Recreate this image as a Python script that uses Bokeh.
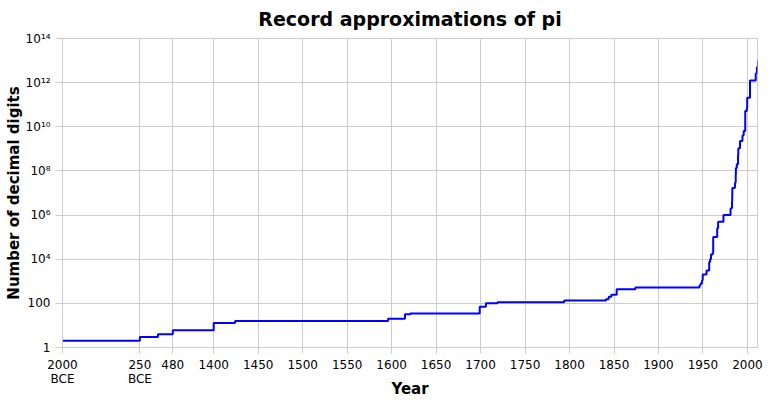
import numpy as np
from bokeh.plotting import figure
from bokeh.models import Range1d, FixedTicker
from bokeh.embed import file_html
from bokeh.resources import INLINE

# ---- data: record number of decimal digits of pi, by year (negative = BCE) ----
YEARS = [-2000, -250, 150, 480, 1400, 1424, 1596, 1615, 1621, 1699, 1706, 1719,
         1794, 1841, 1844, 1847, 1853, 1874, 1946, 1947.0, 1947.7, 1949.0, 1949.7,
         1954, 1957, 1958.0, 1958.4, 1959, 1961.0, 1961.5, 1966, 1967, 1973, 1981,
         1982.0, 1982.3, 1982.6, 1982.9, 1983, 1985.8, 1986.0, 1986.7, 1986.8,
         1987.0, 1988.0, 1989.4, 1989.5, 1989.6, 1989.7, 1989.9, 1991.6, 1994.4,
         1995.6, 1995.8, 1997.5, 1999.3, 1999.7, 2002.9, 2009.3, 2009.9, 2010.6,
         2011.8]
DIGITS = [2, 3, 4, 6, 13, 16, 20, 32, 35, 71, 100, 112,
          136, 152, 200, 248, 440, 527, 620, 710, 808, 1120, 2037,
          3092, 7480, 10000, 10021, 16167, 20000, 100265, 250000, 500000, 1001250, 2000036,
          2000050, 2097144, 4194288, 8388576, 16777206, 17526200, 29360111, 33554414, 67108839,
          134217700, 201326551, 480000000, 535339270, 536870898, 1011196691, 1073740799, 2260000000, 4044000000,
          4294967286, 6442450938, 51539600000, 68719470000, 206158430000, 1241100000000, 2576980377524, 2699999990000, 5000000000000,
          10000000000050]

X_TICK_YEARS = [-2000, -250, 480, 1400, 1450, 1500, 1550, 1600, 1650, 1700,
                1750, 1800, 1850, 1900, 1950, 2000]
X_TICK_LABELS = ["2000\nBCE", "250\nBCE", "480", "1400", "1450", "1500", "1550",
                 "1600", "1650", "1700", "1750", "1800", "1850", "1900", "1950", "2000"]
Y_TICKS = [1.0, 1e2, 1e4, 1e6, 1e8, 1e10, 1e12, 1e14]
Y_TICK_LABELS = ["1", "100", "10\u2074", "10\u2076", "10\u2078", "10\u00b9\u2070",
                 "10\u00b9\u00b2", "10\u00b9\u2074"]

# broken time axis: the years before 1400 are compressed
AXIS_BREAK_YEARS = [-2000, -250, 480, 1400, 2100]
AXIS_BREAK_POS = [1230, 1317, 1354, 1400, 2100]
X_END_YEAR = 2011.3


def to_axis(years):
    return np.interp(years, AXIS_BREAK_YEARS, AXIS_BREAK_POS).tolist()


FONT = "DejaVu Sans"
GRID = "#cccccc"

p = figure(width=775, height=400,
           x_range=Range1d(to_axis([-2000])[0], X_END_YEAR),
           y_range=Range1d(1, 1e14), y_axis_type="log",
           output_backend="svg", toolbar_location=None,
           min_border_left=62, min_border_right=18,
           min_border_top=37, min_border_bottom=53)

p.step(x=to_axis(YEARS), y=DIGITS, mode="after", line_color="#0000ff", line_width=2)

p.title.text = "Record approximations of pi"
p.title.align = "center"
p.title.vertical_align = "top"
p.title.text_font = FONT
p.title.text_font_size = "19px"
p.title.text_font_style = "bold"
p.title.text_color = "black"
p.title.standoff = 14

xt = to_axis(X_TICK_YEARS)
p.xaxis.ticker = FixedTicker(ticks=xt)
p.xaxis.major_label_overrides = {float(k): v for k, v in zip(xt, X_TICK_LABELS)}
p.yaxis.ticker = FixedTicker(ticks=Y_TICKS)
p.yaxis.major_label_overrides = {float(k): v for k, v in zip(Y_TICKS, Y_TICK_LABELS)}

p.xaxis.axis_label = "Year"
p.yaxis.axis_label = "Number of decimal digits"

for ax in (p.xaxis[0], p.yaxis[0]):
    ax.axis_label_text_font = FONT
    ax.axis_label_text_font_size = "15px"
    ax.axis_label_text_font_style = "bold"
    ax.axis_label_text_color = "black"
    ax.major_label_text_font = FONT
    ax.major_label_text_font_size = "12px"
    ax.major_label_text_color = "black"
    ax.major_label_text_line_height = 1.0
    ax.major_label_standoff = 5
    ax.major_tick_out = 7
    ax.major_tick_in = 0
    ax.minor_tick_line_color = None
    ax.axis_line_color = GRID
    ax.major_tick_line_color = GRID

p.xaxis.major_label_standoff = 4
p.xaxis.major_tick_out = 6
p.xaxis.axis_label_standoff = -9
p.yaxis.axis_label_standoff = 0

p.xgrid.grid_line_color = GRID
p.ygrid.grid_line_color = GRID
p.outline_line_color = GRID
p.background_fill_color = "white"
p.border_fill_color = "white"

open("out.html", "w").write(file_html(p, INLINE))
